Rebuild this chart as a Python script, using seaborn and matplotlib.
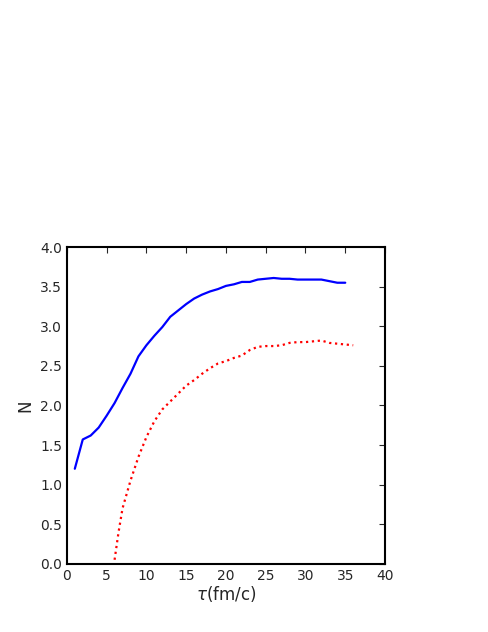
import matplotlib
matplotlib.use("Agg")
import matplotlib.pyplot as plt
import seaborn as sns

tau_blue = list(range(1, 36))
n_blue = [1.2, 1.57, 1.62, 1.72, 1.87, 2.03, 2.22, 2.4, 2.62, 2.76, 2.88, 2.99, 3.12, 3.2, 3.28,
          3.35, 3.4, 3.44, 3.47, 3.51, 3.53, 3.56, 3.56, 3.59, 3.6, 3.61, 3.6, 3.6, 3.59, 3.59,
          3.59, 3.59, 3.57, 3.55, 3.55]
tau_red = [6, 6.5, 7, 8, 9, 10, 11, 12, 13, 14, 15, 16, 17, 18, 19, 20, 21, 22, 23, 24, 25,
           26, 27, 28, 29, 30, 31, 32, 33, 34, 35, 36]
n_red = [0.05, 0.4, 0.7, 1.05, 1.35, 1.6, 1.8, 1.95, 2.05, 2.15, 2.25, 2.32, 2.4, 2.47, 2.53,
         2.56, 2.6, 2.63, 2.7, 2.74, 2.75, 2.75, 2.76, 2.79, 2.8, 2.8, 2.81, 2.82, 2.79, 2.78,
         2.77, 2.76]

sns.set_style("white")
fig = plt.figure(figsize=(4.88, 6.32), dpi=100)
ax = fig.add_axes([0.137, 0.108, 0.652, 0.501])
sns.lineplot(x=tau_blue, y=n_blue, color="blue", lw=1.6, ax=ax)
sns.lineplot(x=tau_red, y=n_red, color="red", lw=1.6, linestyle=":", ax=ax)
ax.set_xlim(0, 40)
ax.set_ylim(0, 4)
ax.set_xticks(range(0, 41, 5))
ax.set_yticks([i * 0.5 for i in range(9)])
ax.set_yticklabels([f"{i * 0.5:.1f}" for i in range(9)])
ax.tick_params(direction="in", top=True, right=True, length=4, labelsize=10)
for s in ax.spines.values():
    s.set_linewidth(1.5)
    s.set_color("black")
ax.set_xlabel(r"$\tau$(fm/c)", fontsize=12, labelpad=1)
ax.set_ylabel("N", fontsize=12)
fig.savefig("out.png", dpi=100)
